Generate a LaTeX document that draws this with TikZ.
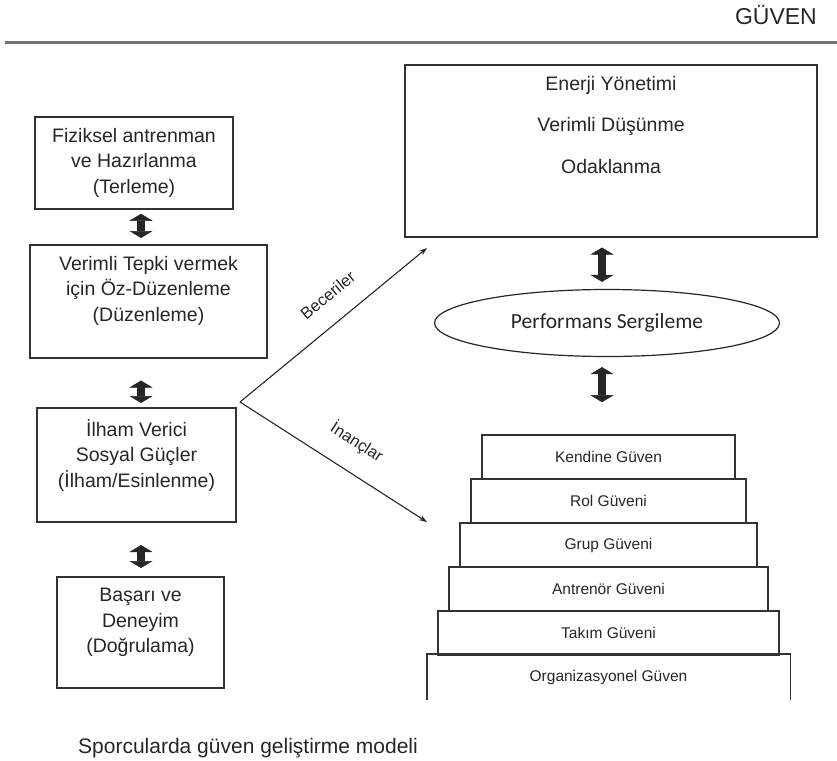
\documentclass[tikz,border=0pt]{standalone}
\usepackage{fontspec}
\setmainfont{Liberation Sans}
\newfontfamily\perffont{Carlito}
\usetikzlibrary{arrows.meta,shapes.geometric}

\tikzset{
  box/.style={draw=black!80, line width=1.6pt, anchor=north, align=center,
    inner ysep=11.5pt, inner xsep=0pt, text=black!85,
    font=\fontsize{19.5}{25.5}\selectfont},
  stair/.style={draw=black!80, line width=1.6pt, minimum height=44pt,
    inner sep=0pt, text=black!85, font=\fontsize{15.5}{18}\selectfont},
  dbl/.style={line width=8pt, black!85,
    {Triangle[width=23pt,length=7pt,line width=0.5pt]}-{Triangle[width=23pt,length=7pt,line width=0.5pt]}},
  okcizgi/.style={line width=1.1pt, black!85, -{Stealth[length=8pt,width=5.5pt]}},
  lbl/.style={sloped, above=20pt, inner sep=0pt, text=black!85,
    font=\fontsize{16.5}{20}\selectfont}
}

\begin{document}
\begin{tikzpicture}[x=1pt, y=-1pt]
      \useasboundingbox (0,0) rectangle (837,760);
      \node[anchor=base east, inner sep=0pt, text=black!85,
        font=\fontsize{23}{26}\selectfont] (baslik) at (817,25) {GÜVEN};
      \draw[line width=3.5pt, black!55] (5,42.5) -- (837,42.5);

      \node[box, minimum width=198pt] (fizik) at (134,116)
        {Fiziksel antrenman\\ve Hazırlanma\\(Terleme)};
      \node[box, minimum width=237pt, text depth=24.8pt] (verimli) at (148.5,244)
        {Verimli Tepki vermek\\için Öz-Düzenleme\\(Düzenleme)};
      \node[box, minimum width=199pt, text depth=23.5pt] (ilham) at (136.5,407)
        {İlham Verici\\Sosyal Güçler\\(İlham/Esinlenme)};
      \node[box, minimum width=167pt, text depth=23.8pt] (basari) at (140.5,576)
        {Başarı ve\\Deneyim\\(Doğrulama)};

      \node[box, minimum width=412pt, text depth=51.8pt,
        font=\fontsize{19.5}{41.5}\selectfont] (enerji) at (611,64)
        {Enerji Yönetimi\\Verimli Düşünme\\Odaklanma};
      \node[draw=black!85, line width=1.2pt, ellipse, minimum width=345pt,
        minimum height=67pt, inner sep=0pt, text=black!85,
        font=\perffont\fontsize{21.5}{24}\selectfont] (perf) at (607,323)
        {Performans Sergileme};

      \node[stair, minimum width=253pt] (kendine) at (608.5,457) {Kendine Güven};
      \node[stair, minimum width=275pt] (rol) at (608.5,501) {Rol Güveni};
      \node[stair, minimum width=297pt] (grup) at (608.5,545) {Grup Güveni};
      \node[stair, minimum width=319pt] (antrenor) at (608.5,589) {Antrenör Güveni};
      \node[stair, minimum width=341pt] (takim) at (608.5,633) {Takım Güveni};
      \node[stair, draw=none, minimum width=362pt] (org) at (608.5,677) {Organizasyonel Güven};
      \draw[black!80, line width=1.6pt]
        (org.south west) -- (org.north west) -- (org.north east) -- (org.south east);

      \coordinate (eksenL) at (141,0);
      \coordinate (eksenR) at (602,0);
      \begin{scope}[dbl]
        \draw[shorten <=4pt, shorten >=6pt] (fizik.south -| eksenL) -- (verimli.north -| eksenL);
        \draw[shorten <=22pt, shorten >=4pt] (verimli.south -| eksenL) -- (ilham.north -| eksenL);
        \draw[shorten <=22pt, shorten >=8pt] (ilham.south -| eksenL) -- (basari.north -| eksenL);
        \draw[shorten <=10pt, shorten >=7pt] (enerji.south -| eksenR) -- (perf.north -| eksenR);
        \draw[shorten <=10pt, shorten >=32pt] (perf.south -| eksenR) -- (kendine.north -| eksenR);
      \end{scope}

      \coordinate (catal) at (240,402);
      \coordinate (becUc) at (427,248);
      \coordinate (inUc) at (427,522);
      \draw[okcizgi] (catal) -- (becUc) node[lbl, pos=0.56] {Beceriler};
      \draw[okcizgi] (catal) -- (inUc) node[lbl, pos=0.54] {İnançlar};

      \node[anchor=base west, inner sep=0pt, text=black!85,
        font=\fontsize{21}{24}\selectfont] (altyazi) at (78,753)
        {Sporcularda güven geliştirme modeli};
\end{tikzpicture}
\end{document}
